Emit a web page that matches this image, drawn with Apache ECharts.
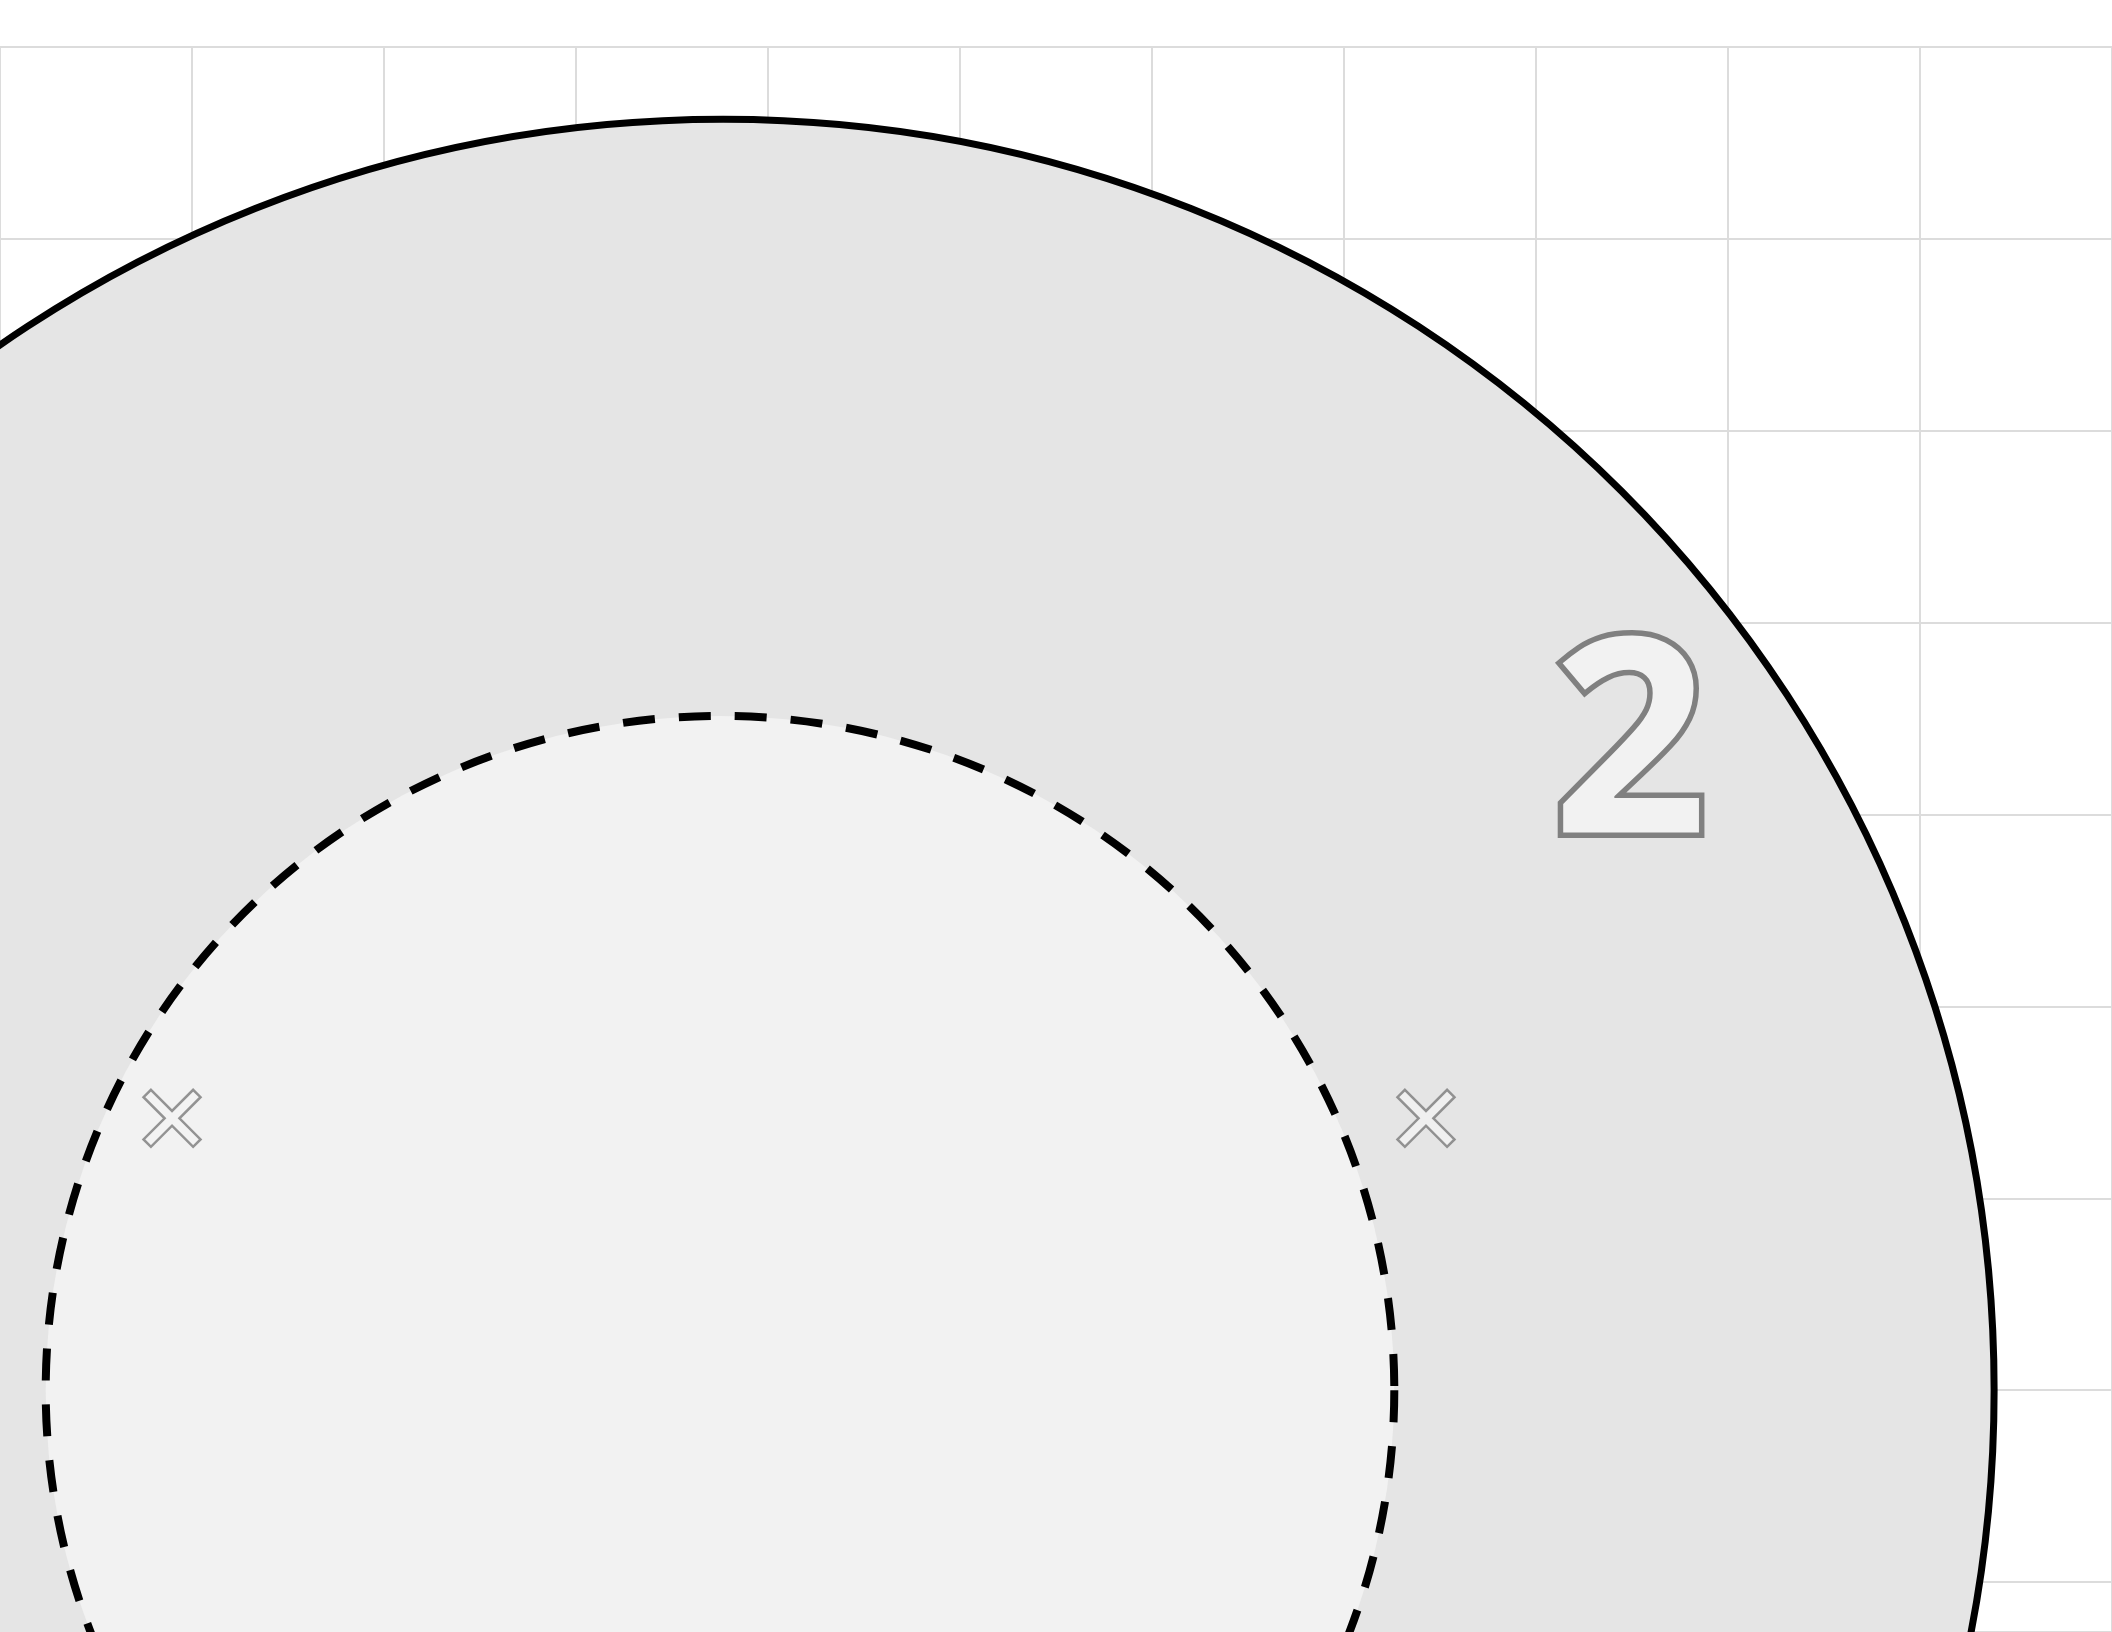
<!DOCTYPE html>
<html>
<head>
<meta charset="utf-8">
<style>
html,body{margin:0;padding:0;background:#ffffff;}
#chart{width:2112px;height:1632px;}
</style>
<script src="https://cdn.jsdelivr.net/npm/echarts@6/dist/echarts.min.js"></script>
</head>
<body>
<div id="chart"></div>
<script>
// ---- data (y measured downward from the top grid line) ----
const circleNames = ['outer', 'inner'];
const circleX = [3.766, 3.75];
const circleY = [7.0, 7.0];
const circleR = [6.62, 3.512];

const markerX = [0.896, 7.427];
const markerY = [5.583, 5.583];

const labelTexts = ['2'];
const labelX = [8.49];
const labelY = [3.69];

const xRange = [0, 11];
const yRange = [0, 8.26];

// ---- styles ----
const circleStyles = [
  { fill: '#e5e5e5', stroke: '#000000', lineWidth: 7, lineDash: null },
  { fill: '#f2f2f2', stroke: '#000000', lineWidth: 8, lineDash: [32, 24] }
];

const xPath = 'path://M13,0 L50,37 L87,0 L100,13 L63,50 L100,87 L87,100 L50,63 L13,100 L0,87 L37,50 L0,13 Z';

const chart = echarts.init(document.getElementById('chart'), null, { renderer: 'canvas' });

const circleData = circleNames.map((n, i) => [circleX[i], circleY[i], circleR[i], i]);
const markerData = markerX.map((x, i) => [x, markerY[i]]);
const labelData = labelTexts.map((t, i) => [labelX[i], labelY[i], t]);

const option = {
  backgroundColor: '#ffffff',
  animation: false,
  grid: { left: 0, right: 0, top: 47, bottom: 0, containLabel: false, show: false },
  xAxis: {
    type: 'value', min: xRange[0], max: xRange[1], interval: 1,
    axisLine: { show: false }, axisTick: { show: false }, axisLabel: { show: false },
    splitLine: { show: true, lineStyle: { color: '#dcdcdc', width: 2 } }
  },
  yAxis: {
    type: 'value', inverse: true, min: yRange[0], max: yRange[1], interval: 1,
    axisLine: { show: false }, axisTick: { show: false }, axisLabel: { show: false },
    splitLine: { show: true, lineStyle: { color: '#dcdcdc', width: 2 } }
  },
  series: [
    {
      type: 'custom',
      clip: false,
      data: circleData,
      renderItem: function (params, api) {
        const c = api.coord([api.value(0), api.value(1)]);
        const s = api.size([api.value(2), api.value(2)]);
        const st = circleStyles[api.value(3)];
        return {
          type: 'circle',
          shape: { cx: c[0], cy: c[1], r: s[0] },
          style: { fill: st.fill, stroke: st.stroke, lineWidth: st.lineWidth, lineDash: st.lineDash }
        };
      },
      z: 2
    },
    {
      type: 'scatter',
      data: markerData,
      symbol: xPath,
      symbolSize: 57,
      itemStyle: { color: '#f2f2f2', borderColor: '#7a7a7a', borderWidth: 2.5 },
      z: 3
    },
    {
      type: 'custom',
      clip: false,
      data: labelData,
      renderItem: function (params, api) {
        const c = api.coord([api.value(0), api.value(1)]);
        return {
          type: 'text',
          x: c[0], y: c[1],
          style: {
            text: labelTexts[params.dataIndex],
            fontSize: 272,
            fontFamily: 'Open Sans',
            fontWeight: 'bold',
            fill: '#f2f2f2',
            stroke: '#808080',
            lineWidth: 11,
            lineJoin: 'round',
            strokeFirst: true,
            align: 'center',
            verticalAlign: 'middle'
          }
        };
      },
      z: 4
    }
  ]
};
chart.setOption(option);
</script>
</body>
</html>
